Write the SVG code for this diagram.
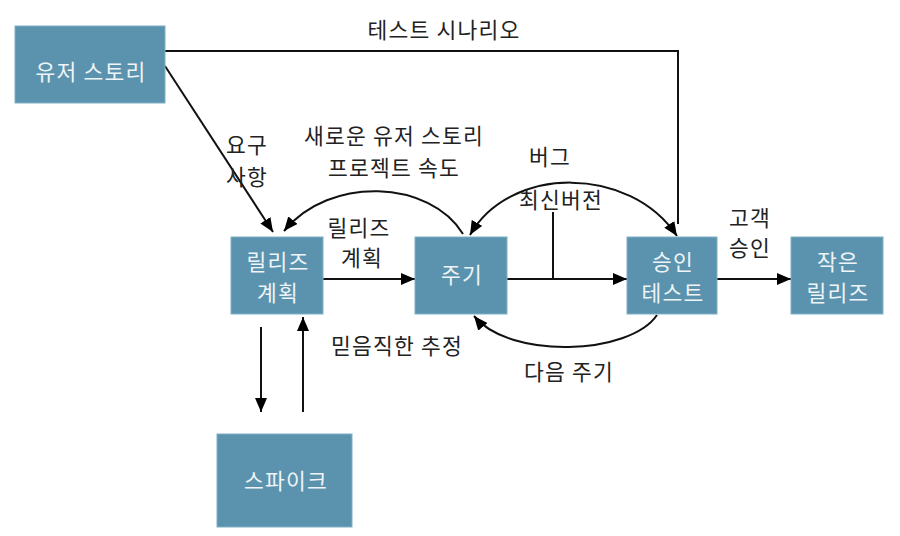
<svg xmlns="http://www.w3.org/2000/svg" width="900" height="536" viewBox="0 0 900 536">
<defs>
<style>
.box{fill:#5b93ae;stroke:#7fb0c6;stroke-width:1}
.bt{font-family:"Noto Sans CJK KR","Noto Sans",sans-serif;font-size:21.5px;fill:#eef4f7;text-anchor:middle;letter-spacing:1.2px}
.lt{font-family:"Noto Sans CJK KR","Noto Sans",sans-serif;font-size:21.5px;fill:#222;text-anchor:middle;letter-spacing:1.2px}
.ln{fill:none;stroke:#111;stroke-width:2}
</style>
<marker id="ah" viewBox="0 0 14 12" refX="14" refY="6" markerWidth="14" markerHeight="12" markerUnits="userSpaceOnUse" orient="auto-start-reverse">
<path d="M0,0 L14,6 L0,12 z" fill="#000"/>
</marker>
</defs>
<rect width="900" height="536" fill="#fff"/>
<g id="connectors">
<path class="ln" d="M165,51 H678 V224"/>
<path class="ln" d="M165,66 L273,232" marker-end="url(#ah)"/>
<path class="ln" d="M463,234 C430,180 330,175 284,231" marker-end="url(#ah)"/>
<path class="ln" d="M470,235 C510,165 630,165 677,236" marker-start="url(#ah)" marker-end="url(#ah)"/>
<path class="ln" d="M323,279 H415" marker-end="url(#ah)"/>
<path class="ln" d="M507,279 H627" marker-end="url(#ah)"/>
<path class="ln" d="M553,212 V279"/>
<path class="ln" d="M717,279 H791" marker-end="url(#ah)"/>
<path class="ln" d="M657,315 C630,355 510,360 474,316" marker-end="url(#ah)"/>
<path class="ln" d="M261,327 V412" marker-end="url(#ah)"/>
<path class="ln" d="M303,412 V317" marker-end="url(#ah)"/>
</g>
<g id="labels">
<text class="lt" x="444" y="38">테스트 시나리오</text>
<text class="lt" x="247" y="153">요구</text>
<text class="lt" x="247" y="185">사항</text>
<text class="lt" x="394" y="144">새로운 유저 스토리</text>
<text class="lt" x="394" y="176">프로젝트 속도</text>
<text class="lt" x="550" y="165">버그</text>
<text class="lt" x="561" y="208">최신버전</text>
<text class="lt" x="359" y="236">릴리즈</text>
<text class="lt" x="362" y="266">계획</text>
<text class="lt" x="750" y="226">고객</text>
<text class="lt" x="750" y="256">승인</text>
<text class="lt" x="397" y="354">믿음직한 추정</text>
<text class="lt" x="569" y="380">다음 주기</text>
</g>
<g id="user-story">
<rect class="box" x="15" y="26" width="150" height="77"/>
<text class="bt" x="91" y="80">유저 스토리</text>
</g>
<g id="release-plan">
<rect class="box" x="231" y="237" width="92" height="77"/>
<text class="bt" x="278" y="270">릴리즈</text>
<text class="bt" x="278" y="301">계획</text>
</g>
<g id="cycle">
<rect class="box" x="415" y="237" width="92" height="77"/>
<text class="bt" x="462" y="283">주기</text>
</g>
<g id="acceptance-test">
<rect class="box" x="627" y="237" width="90" height="77"/>
<text class="bt" x="673" y="270">승인</text>
<text class="bt" x="673" y="301">테스트</text>
</g>
<g id="small-release">
<rect class="box" x="791" y="237" width="92" height="77"/>
<text class="bt" x="838" y="270">작은</text>
<text class="bt" x="838" y="301">릴리즈</text>
</g>
<g id="spike">
<rect class="box" x="217" y="434" width="135" height="93"/>
<text class="bt" x="286" y="489">스파이크</text>
</g>
</svg>
